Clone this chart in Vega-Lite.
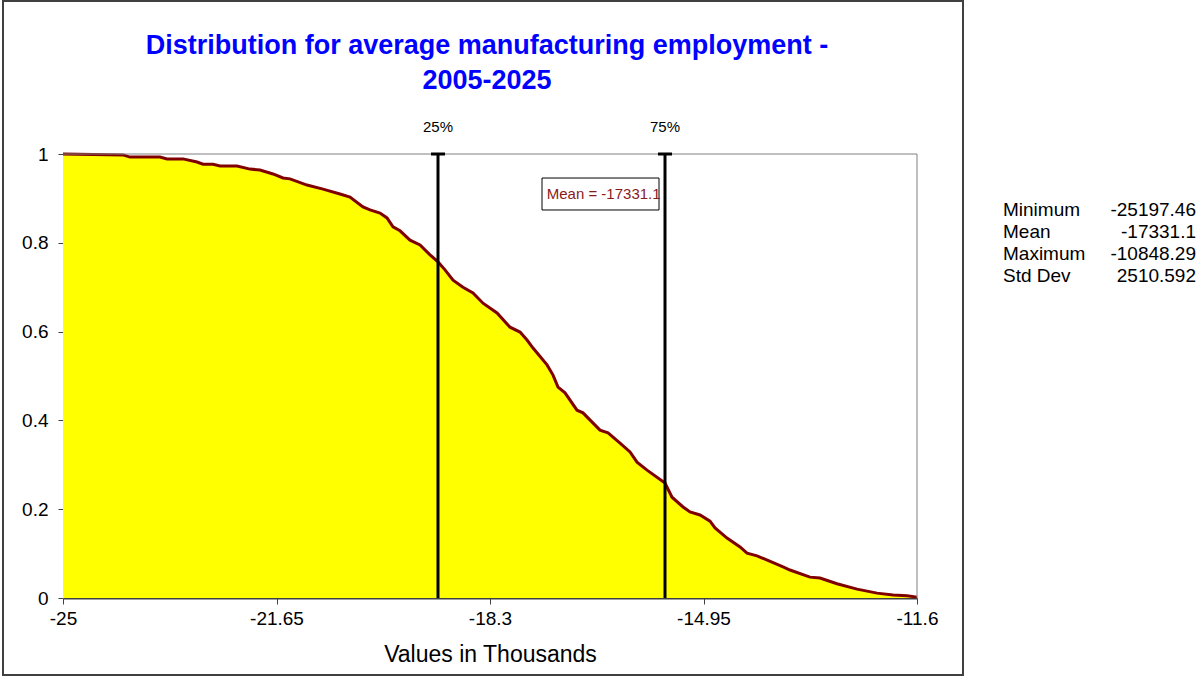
{
  "$schema": "https://vega.github.io/schema/vega-lite/v6.json",
  "background": "white",
  "padding": {"left": 2, "top": 0, "right": 0, "bottom": 0},
  "spacing": 39,
  "config": {"font": "Liberation Sans", "view": {"stroke": null}},
  "datasets": {
    "curve": [
      {"value": -25.0, "prob": 1.0},
      {"value": -24.058, "prob": 0.998},
      {"value": -23.949, "prob": 0.993},
      {"value": -23.478, "prob": 0.993},
      {"value": -23.368, "prob": 0.989},
      {"value": -23.117, "prob": 0.989},
      {"value": -22.897, "prob": 0.982},
      {"value": -22.803, "prob": 0.977},
      {"value": -22.646, "prob": 0.977},
      {"value": -22.536, "prob": 0.973},
      {"value": -22.27, "prob": 0.973},
      {"value": -22.066, "prob": 0.966},
      {"value": -21.909, "prob": 0.964},
      {"value": -21.705, "prob": 0.955},
      {"value": -21.548, "prob": 0.946},
      {"value": -21.438, "prob": 0.944},
      {"value": -21.171, "prob": 0.93},
      {"value": -20.92, "prob": 0.921},
      {"value": -20.654, "prob": 0.91},
      {"value": -20.497, "prob": 0.903},
      {"value": -20.293, "prob": 0.881},
      {"value": -20.183, "prob": 0.874},
      {"value": -20.026, "prob": 0.867},
      {"value": -19.916, "prob": 0.856},
      {"value": -19.822, "prob": 0.836},
      {"value": -19.712, "prob": 0.827},
      {"value": -19.555, "prob": 0.806},
      {"value": -19.398, "prob": 0.795},
      {"value": -19.241, "prob": 0.773},
      {"value": -19.116, "prob": 0.757},
      {"value": -19.006, "prob": 0.739},
      {"value": -18.88, "prob": 0.716},
      {"value": -18.724, "prob": 0.7},
      {"value": -18.567, "prob": 0.687},
      {"value": -18.41, "prob": 0.664},
      {"value": -18.19, "prob": 0.642},
      {"value": -17.986, "prob": 0.61},
      {"value": -17.829, "prob": 0.599},
      {"value": -17.719, "prob": 0.581},
      {"value": -17.625, "prob": 0.563},
      {"value": -17.405, "prob": 0.525},
      {"value": -17.311, "prob": 0.502},
      {"value": -17.233, "prob": 0.475},
      {"value": -17.123, "prob": 0.462},
      {"value": -16.935, "prob": 0.423},
      {"value": -16.841, "prob": 0.417},
      {"value": -16.574, "prob": 0.378},
      {"value": -16.448, "prob": 0.372},
      {"value": -16.26, "prob": 0.349},
      {"value": -16.103, "prob": 0.329},
      {"value": -15.993, "prob": 0.306},
      {"value": -15.836, "prob": 0.288},
      {"value": -15.554, "prob": 0.259},
      {"value": -15.444, "prob": 0.227},
      {"value": -15.271, "prob": 0.205},
      {"value": -15.162, "prob": 0.194},
      {"value": -15.005, "prob": 0.187},
      {"value": -14.848, "prob": 0.173},
      {"value": -14.769, "prob": 0.158},
      {"value": -14.581, "prob": 0.135},
      {"value": -14.377, "prob": 0.115},
      {"value": -14.267, "prob": 0.101},
      {"value": -14.11, "prob": 0.095},
      {"value": -13.702, "prob": 0.07},
      {"value": -13.593, "prob": 0.063},
      {"value": -13.279, "prob": 0.047},
      {"value": -13.122, "prob": 0.045},
      {"value": -12.855, "prob": 0.032},
      {"value": -12.541, "prob": 0.02},
      {"value": -12.227, "prob": 0.011},
      {"value": -11.976, "prob": 0.007},
      {"value": -11.757, "prob": 0.005},
      {"value": -11.6, "prob": 0.002}
    ],
    "quart": [
      {"label": "25%", "value": -19.116},
      {"label": "75%", "value": -15.554}
    ],
    "annot": [
      {"label": "Mean = -17331.1", "mean": -17.3311}
    ],
    "stats": [
      {"stat": "Minimum", "value": -25197.46},
      {"stat": "Mean", "value": -17331.1},
      {"stat": "Maximum", "value": -10848.29},
      {"stat": "Std Dev", "value": 2510.592}
    ]
  },
  "hconcat": [
    {
      "width": 960,
      "height": 674,
      "view": {"stroke": "#404040", "strokeWidth": 2},
      "title": {
        "text": ["Distribution for average manufacturing employment -", "2005-2025"],
        "fontSize": 27,
        "fontWeight": "bold",
        "font": "Liberation Sans",
        "color": "#0000FF",
        "lineHeight": 35,
        "anchor": "middle",
        "dx": 4,
        "offset": -94
      },
      "layer": [
        {
          "data": {"name": "curve"},
          "mark": {"type": "area", "color": "#FFFF00", "opacity": 1},
          "encoding": {
            "x": {
              "field": "value", "type": "quantitative", "title": "Values in Thousands",
              "scale": {"domain": [-25, -11.6], "range": [60, 914], "nice": false, "zero": false},
              "axis": {
                "values": [-25, -21.65, -18.3, -14.95, -11.6],
                "labelExpr": "'' + datum.value",
                "offset": -77, "grid": false,
                "domainColor": "#404040", "domainWidth": 2,
                "tickColor": "#404040", "tickSize": 6, "tickWidth": 1,
                "labelFontSize": 19, "labelColor": "black", "labelPadding": 5,
                "labelOverlap": false, "labelFlush": false,
                "titleFontSize": 23, "titleFontWeight": "normal", "titleColor": "black", "titlePadding": 15
              }
            },
            "y": {
              "field": "prob", "type": "quantitative", "title": null,
              "scale": {"domain": [0, 1], "range": [597, 153], "nice": false, "zero": false},
              "axis": {
                "values": [0, 0.2, 0.4, 0.6, 0.8, 1],
                "labelExpr": "'' + datum.value",
                "offset": -60, "grid": false,
                "domainColor": "#808080", "domainWidth": 1,
                "tickColor": "#404040", "tickSize": 5,
                "labelFontSize": 19, "labelColor": "black", "labelPadding": 10
              }
            }
          }
        },
        {
          "data": {"name": "curve"},
          "mark": {"type": "line", "color": "#800000", "strokeWidth": 3},
          "encoding": {
            "x": {"field": "value", "type": "quantitative"},
            "y": {"field": "prob", "type": "quantitative"}
          }
        },
        {
          "data": {"values": [{}]},
          "mark": {"type": "rule", "color": "#808080", "strokeWidth": 1},
          "encoding": {
            "x": {"datum": -25, "type": "quantitative"},
            "x2": {"datum": -11.6},
            "y": {"datum": 1, "type": "quantitative"}
          }
        },
        {
          "data": {"values": [{}]},
          "mark": {"type": "rule", "color": "#808080", "strokeWidth": 1},
          "encoding": {
            "x": {"datum": -11.6, "type": "quantitative"},
            "y": {"datum": 0, "type": "quantitative"},
            "y2": {"datum": 1}
          }
        },
        {
          "data": {"name": "quart"},
          "mark": {"type": "rule", "color": "black", "strokeWidth": 3},
          "encoding": {
            "x": {"field": "value", "type": "quantitative"},
            "y": {"datum": 0, "type": "quantitative"},
            "y2": {"datum": 1}
          }
        },
        {
          "data": {"name": "quart"},
          "mark": {"type": "tick", "orient": "horizontal", "color": "black", "size": 14, "thickness": 3, "opacity": 1},
          "encoding": {
            "x": {"field": "value", "type": "quantitative"},
            "y": {"datum": 1, "type": "quantitative"}
          }
        },
        {
          "data": {"name": "quart"},
          "mark": {"type": "text", "align": "center", "baseline": "alphabetic", "dy": -22, "fontSize": 15, "color": "black"},
          "encoding": {
            "x": {"field": "value", "type": "quantitative"},
            "y": {"datum": 1, "type": "quantitative"},
            "text": {"field": "label"}
          }
        },
        {
          "data": {"values": [{}]},
          "mark": {"type": "rect", "fill": "white", "stroke": "black", "strokeWidth": 1},
          "encoding": {
            "x": {"datum": -17.484, "type": "quantitative"},
            "x2": {"datum": -15.648},
            "y": {"datum": 0.9459, "type": "quantitative"},
            "y2": {"datum": 0.8739}
          }
        },
        {
          "data": {"name": "annot"},
          "mark": {"type": "text", "align": "left", "baseline": "alphabetic", "dx": -5, "dy": 45, "fontSize": 15, "color": "#8B1A1A"},
          "encoding": {
            "x": {"field": "mean", "type": "quantitative"},
            "y": {"datum": 1, "type": "quantitative"},
            "text": {"field": "label"}
          }
        }
      ]
    },
    {
      "width": 193,
      "height": 674,
      "data": {"name": "stats"},
      "layer": [
        {
          "mark": {"type": "text", "align": "left", "baseline": "alphabetic", "fontSize": 19, "color": "black"},
          "encoding": {
            "x": {"datum": 0, "type": "quantitative", "scale": {"domain": [0, 1]}, "axis": null},
            "y": {"field": "stat", "type": "nominal", "sort": null, "scale": {"type": "point", "range": [215, 281], "padding": 0}, "axis": null},
            "text": {"field": "stat"}
          }
        },
        {
          "mark": {"type": "text", "align": "right", "baseline": "alphabetic", "fontSize": 19, "color": "black"},
          "encoding": {
            "x": {"datum": 1, "type": "quantitative"},
            "y": {"field": "stat", "type": "nominal", "sort": null},
            "text": {"field": "value", "type": "nominal"}
          }
        }
      ]
    }
  ]
}
